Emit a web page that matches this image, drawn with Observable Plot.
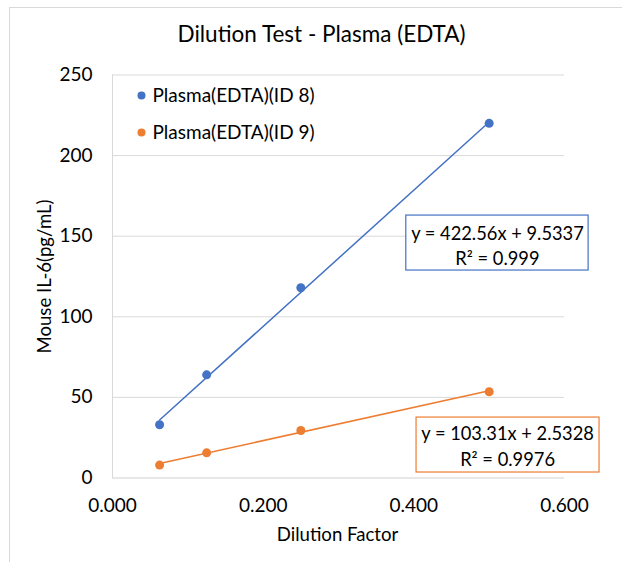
<!DOCTYPE html>
<html>
<head>
<meta charset="utf-8">
<script src="https://cdn.jsdelivr.net/npm/d3@7"></script>
<script src="https://cdn.jsdelivr.net/npm/@observablehq/plot@0.6"></script>
<style>
  html, body { margin: 0; padding: 0; background: #fff; }
  #wrap { position: relative; width: 622px; height: 562px; overflow: hidden; }
  #edge { position: absolute; left: 9px; top: 7px; right: -2px; bottom: -2px;
          border-top: 1px solid #d9d9d9; border-left: 1px solid #d9d9d9; pointer-events: none; }
  svg { display: block; }
</style>
</head>
<body>
<div id="wrap"><div id="edge"></div></div>
<script>
// ---- data ----
const title = "Dilution Test - Plasma (EDTA)";
const xLabel = "Dilution Factor";
const yLabel = "Mouse IL-6(pg/mL)";
const dilution = [0.0625, 0.125, 0.25, 0.5];
const id8Values = [33, 64, 118, 220];
const id9Values = [8, 15.6, 29.5, 53.5];
const seriesNames = ["Plasma(EDTA)(ID 8)", "Plasma(EDTA)(ID 9)"];
const seriesColors = ["#4472C4", "#ED7D31"];
const slopes = [422.56, 103.31];
const intercepts = [9.5337, 2.5328];
const r2Labels = ["0.999", "0.9976"];
const xTicks = [0, 0.2, 0.4, 0.6];
const yTicks = [0, 50, 100, 150, 200, 250];

// ---- derived tables ----
const points = [
  ...dilution.map((x, i) => ({x, y: id8Values[i], s: seriesNames[0]})),
  ...dilution.map((x, i) => ({x, y: id9Values[i], s: seriesNames[1]}))
];
const xExt = d3.extent(dilution);
const trend = seriesNames.flatMap((s, k) =>
  xExt.map(x => ({x, y: slopes[k] * x + intercepts[k], s})));
const eqText = seriesNames.map((s, k) =>
  `y = ${slopes[k]}x + ${intercepts[k]}\nR² = ${r2Labels[k]}`);
// annotation anchors (data units) for the two equation boxes
const boxes = [
  {x1: 0.390, x2: 0.632, y1: 128.7, y2: 162.8, cx: 0.511, cy: 145.1, s: seriesNames[0], t: eqText[0]},
  {x1: 0.4036, x2: 0.6465, y1: 3.4, y2: 37.5, cx: 0.5244, cy: 20.5, s: seriesNames[1], t: eqText[1]}
];

const font = "Lato, 'Open Sans', sans-serif";
const color = {domain: seriesNames, range: seriesColors};

const legendMarks = seriesNames.flatMap((name, i) => [
  Plot.dot([name], {frameAnchor: "top-left", dx: 29, dy: 20.5 + 37 * i, fill: seriesColors[i], r: 4}),
  Plot.text([name], {frameAnchor: "top-left", dx: 40, dy: 20.5 + 37 * i, textAnchor: "start",
    lineAnchor: "middle", fontSize: 19, fill: "#000"})
]);

const chart = Plot.plot({
  width: 622,
  height: 562,
  marginLeft: 112,
  marginRight: 58,
  marginTop: 74.5,
  marginBottom: 84.5,
  style: {fontFamily: font, fontSize: "18px", color: "#000", background: "transparent"},
  x: {domain: [0, 0.6], ticks: xTicks, tickFormat: d3.format(".3f")},
  y: {domain: [0, 250], ticks: yTicks},
  color,
  marks: [
    Plot.gridY(yTicks.filter(d => d > 0), {stroke: "#d9d9d9", strokeOpacity: 1, strokeWidth: 1}),
    Plot.ruleY([0], {stroke: "#d0d0d0", strokeWidth: 1.2}),
    Plot.ruleX([0], {stroke: "#d9d9d9", strokeWidth: 1}),
    Plot.axisX({ticks: xTicks, tickSize: 0, tickPadding: 20, tickFormat: d3.format(".3f"), fontSize: 19, label: null}),
    Plot.axisY({ticks: yTicks, tickSize: 0, tickPadding: 20, fontSize: 19, label: null}),
    Plot.line(trend, {x: "x", y: "y", z: "s", stroke: "s", strokeWidth: 1.5}),
    Plot.dot(points, {x: "x", y: "y", fill: "s", r: 4.5}),
    Plot.rect(boxes, {x1: "x1", x2: "x2", y1: "y1", y2: "y2", stroke: "s", fill: "white", strokeWidth: 1.2}),
    Plot.text(boxes, {x: "cx", y: "cy", text: "t", fontSize: 18.3, lineHeight: 1.37, fill: "#000"}),
    ...legendMarks,
    // titles
    Plot.text([title], {frameAnchor: "top", dx: -17, dy: -40, lineAnchor: "middle", fontSize: 22.5, fill: "#000"}),
    Plot.text([xLabel], {frameAnchor: "bottom", dx: -1, dy: 57.5, lineAnchor: "middle", fontSize: 18.6, fill: "#000"}),
    Plot.text([yLabel], {frameAnchor: "left", dx: -67, rotate: -90, textAnchor: "middle", lineAnchor: "middle",
      fontSize: 18.6, fill: "#000"})
  ]
});
document.getElementById("wrap").prepend(chart);
</script>
</body>
</html>
